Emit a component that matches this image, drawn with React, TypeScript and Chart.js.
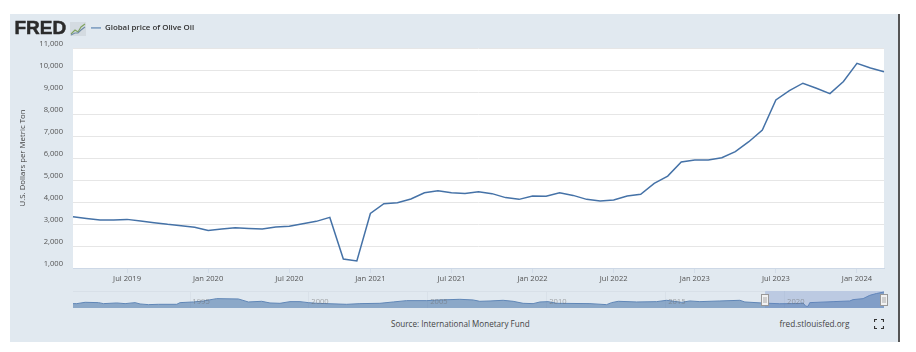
import React, { useEffect, useRef } from "react";
import { Chart, registerables } from "chart.js";

Chart.register(...registerables);

const categories = [
  "Mar 2019","Apr 2019","May 2019","Jun 2019","Jul 2019","Aug 2019","Sep 2019","Oct 2019","Nov 2019","Dec 2019",
  "Jan 2020","Feb 2020","Mar 2020","Apr 2020","May 2020","Jun 2020","Jul 2020","Aug 2020","Sep 2020","Oct 2020","Nov 2020","Dec 2020",
  "Jan 2021","Feb 2021","Mar 2021","Apr 2021","May 2021","Jun 2021","Jul 2021","Aug 2021","Sep 2021","Oct 2021","Nov 2021","Dec 2021",
  "Jan 2022","Feb 2022","Mar 2022","Apr 2022","May 2022","Jun 2022","Jul 2022","Aug 2022","Sep 2022","Oct 2022","Nov 2022","Dec 2022",
  "Jan 2023","Feb 2023","Mar 2023","Apr 2023","May 2023","Jun 2023","Jul 2023","Aug 2023","Sep 2023","Oct 2023","Nov 2023","Dec 2023",
  "Jan 2024","Feb 2024","Mar 2024",
];

const oliveOil = [
  3330,3255,3180,3180,3210,3136,3060,2985,2925,2850,
  2710,2770,2830,2800,2770,2860,2900,3010,3120,3300,1410,1320,
  3480,3925,3970,4136,4420,4510,4420,4390,4470,4380,4200,4120,
  4270,4260,4420,4300,4120,4045,4090,4270,4350,4850,5180,5820,
  5910,5910,6010,6290,6740,7270,8640,9060,9400,9170,8925,9480,
  10300,10090,9920,
];

const tickLabels = ["Jul 2019","Jan 2020","Jul 2020","Jan 2021","Jul 2021","Jan 2022","Jul 2022","Jan 2023","Jul 2023","Jan 2024"];

const navYears = [
  1990.08,1990.24,1990.59,1991.15,1991.36,1991.92,1992.27,1992.69,1992.9,1993.25,1993.67,1994.44,1994.58,1995.14,1995.56,
  1996.12,1997.03,1997.45,1998.01,1998.36,1998.78,1999.2,1999.62,1999.97,2000.32,2001.58,2002.14,2002.98,2003.54,2004.1,
  2004.95,2005.5,2006.34,2006.9,2007.18,2007.61,2008.16,2008.58,2009.0,2009.42,2009.71,2010.05,2010.41,2011.81,2012.51,
  2012.72,2013.0,2013.77,2014.61,2015.03,2015.66,2016.01,2016.43,2017.27,2018.11,2018.32,2019.09,2019.79,2020.56,2020.77,
  2020.88,2020.98,2021.05,2022.03,2022.73,2022.87,2023.29,2023.57,2023.85,2024.17,
];
const navValues = [
  2959,2959,3771,3568,2959,3365,2959,3568,2756,2350,2553,2553,3568,3974,4583,
  6004,5801,3974,4380,3365,3162,4177,4177,3568,3162,2553,2959,3162,3974,4786,
  4786,5192,5598,5192,4380,4583,4989,4380,3162,2959,3974,4177,3162,2959,2350,
  3568,4380,3974,4177,4989,3771,4583,4177,4583,4989,3974,3300,2900,3000,3300,
  1400,1335,3568,4177,4580,5400,6000,8000,9100,10050,
];
const navTicks = [1995, 2000, 2005, 2010, 2015, 2020];
const selectionStart = 2019.17;
const selectionEnd = 2024.17;

const seriesName = "Global price of Olive Oil";
const yTitle = "U.S. Dollars per Metric Ton";
const FONT = "'Open Sans', sans-serif";
const PANEL = "#e1e9f0";
const LINE = "#4572a7";

const plotBackground = {
  id: "plotBackground",
  beforeDraw(chart: any) {
    const { ctx, chartArea: a } = chart;
    ctx.save();
    ctx.fillStyle = "#ffffff";
    ctx.fillRect(a.left, a.top, a.right - a.left, a.bottom - a.top);
    ctx.restore();
  },
};

const legendPlacement = {
  id: "legendPlacement",
  afterLayout(chart: any) {
    const l = chart.legend;
    const w = l.right - l.left;
    const h = l.bottom - l.top;
    l.left = 91;
    l.right = 91 + w;
    l.top = 24;
    l.bottom = 24 + h;
  },
};

const navigatorParts = {
  id: "navigatorParts",
  afterDatasetsDraw(chart: any) {
    const { ctx, chartArea: a, scales } = chart;
    const x0 = scales.x.getPixelForValue(selectionStart);
    const x1 = scales.x.getPixelForValue(selectionEnd);
    ctx.save();
    ctx.fillStyle = "rgba(102,133,194,0.3)";
    ctx.fillRect(x0, a.top, x1 - x0, a.bottom - a.top);
    ctx.strokeStyle = "#d8e0e8";
    ctx.lineWidth = 1;
    ctx.beginPath();
    ctx.moveTo(a.left, a.top + 0.5);
    ctx.lineTo(x0, a.top + 0.5);
    ctx.stroke();
    for (const x of [x0, x1]) {
      const left = Math.round(x) - 3.5;
      const top = a.top + 3.5;
      ctx.fillStyle = "#f2f2f2";
      ctx.strokeStyle = "#999999";
      ctx.fillRect(left, top, 7, 11);
      ctx.strokeRect(left, top, 7, 11);
      ctx.strokeStyle = "#aaaaaa";
      ctx.beginPath();
      ctx.moveTo(left + 2.5, top + 2.5);
      ctx.lineTo(left + 2.5, top + 8.5);
      ctx.moveTo(left + 4.5, top + 2.5);
      ctx.lineTo(left + 4.5, top + 8.5);
      ctx.stroke();
    }
    ctx.restore();
  },
};

export default function App() {
  const mainRef = useRef<HTMLCanvasElement>(null);
  const navRef = useRef<HTMLCanvasElement>(null);

  useEffect(() => {
    const main = new Chart(mainRef.current as HTMLCanvasElement, {
      type: "line",
      data: {
        labels: categories,
        datasets: [
          {
            label: seriesName,
            data: oliveOil,
            borderColor: LINE,
            backgroundColor: LINE,
            borderWidth: 1.5,
            pointRadius: 0,
            tension: 0,
            clip: false,
          },
        ],
      },
      options: {
        animation: false,
        responsive: false,
        events: [],
        layout: { autoPadding: false, padding: { left: 18, right: 32, top: 48, bottom: 0 } },
        plugins: {
          tooltip: { enabled: false },
          legend: {
            position: "chartArea",
            align: "start",
            labels: {
              usePointStyle: true,
              pointStyle: "line",
              pointStyleWidth: 10,
              padding: 0,
              color: "#333333",
              font: { family: FONT, size: 7.9, weight: "600" },
              generateLabels: (chart: any) =>
                Chart.defaults.plugins.legend.labels
                  .generateLabels(chart)
                  .map((item: any) => ({ ...item, lineWidth: 1 })),
            },
          },
        },
        scales: {
          x: {
            type: "category",
            offset: false,
            afterBuildTicks: (s: any) => {
              s.ticks = s.ticks.filter((t: any) => tickLabels.includes(categories[t.value]));
            },
            afterFit: (s: any) => {
              s.height = 22;
            },
            border: { color: "#cdd8e6", width: 1 },
            grid: { drawOnChartArea: false, drawTicks: true, tickLength: 5, tickColor: "#d3dde9" },
            ticks: {
              autoSkip: false,
              maxRotation: 0,
              padding: 1.5,
              color: "#555555",
              font: { family: FONT, size: 7.6 },
              callback(this: any, v: any) {
                return this.getLabelForValue(v);
              },
            },
          },
          y: {
            min: 1000,
            max: 11000,
            afterFit: (s: any) => {
              s.width = 55;
            },
            border: { display: false },
            grid: { color: "#e6e6e6", lineWidth: 1, drawTicks: false },
            title: {
              display: true,
              text: yTitle,
              color: "#444444",
              padding: { top: 0, bottom: 0 },
              font: { family: FONT, size: 7.8 },
            },
            ticks: {
              stepSize: 1000,
              labelOffset: -4,
              padding: 10,
              color: "#555555",
              font: { family: FONT, size: 7.6 },
              callback: (v: any) => Number(v).toLocaleString("en-US"),
            },
          },
        },
      },
      plugins: [plotBackground, legendPlacement],
    } as any);

    const nav = new Chart(navRef.current as HTMLCanvasElement, {
      type: "line",
      data: {
        datasets: [
          {
            label: "Navigator",
            data: navYears.map((x, i) => ({ x, y: navValues[i] })),
            borderColor: "#5f86b6",
            backgroundColor: "rgba(69,114,167,0.55)",
            borderWidth: 1,
            pointRadius: 0,
            tension: 0,
            fill: "start",
          },
        ],
      },
      options: {
        animation: false,
        responsive: false,
        events: [],
        layout: { autoPadding: false, padding: { left: 73, right: 32, top: 0, bottom: 0 } },
        plugins: { legend: { display: false }, tooltip: { enabled: false } },
        scales: {
          x: {
            type: "linear",
            min: navYears[0],
            max: selectionEnd,
            afterBuildTicks: (s: any) => {
              s.ticks = navTicks.map((value) => ({ value }));
            },
            afterFit: (s: any) => {
              s.height = 0;
            },
            border: { display: false },
            grid: { color: "#d9e1e9", drawTicks: false, tickLength: 0 },
            ticks: {
              z: 1,
              autoSkip: false,
              maxRotation: 0,
              mirror: true,
              padding: 1.5,
              labelOffset: 11,
              color: "rgba(110,110,110,0.55)",
              font: { family: FONT, size: 7.6 },
              callback: (v: any) => String(v),
            },
          },
          y: { display: false, min: 300, max: 10650 },
        },
      },
      plugins: [navigatorParts],
    } as any);

    return () => {
      main.destroy();
      nav.destroy();
    };
  }, []);

  const text: React.CSSProperties = {
    position: "absolute",
    fontFamily: FONT,
    fontSize: 8.2,
    color: "#444444",
    whiteSpace: "nowrap",
    lineHeight: "12px",
  };

  return (
    <div style={{ position: "absolute", left: 0, top: 0, width: 916, height: 352, background: "#ffffff", overflow: "hidden" }}>
      <div style={{ position: "absolute", left: 10, top: 14, width: 888, height: 328, background: PANEL }} />
      <div style={{ position: "absolute", left: 898, top: 14, width: 1.5, height: 328, background: "#555555" }} />
      <canvas ref={mainRef} width={916} height={290} style={{ position: "absolute", left: 0, top: 0 }} />
      <canvas ref={navRef} width={916} height={17} style={{ position: "absolute", left: 0, top: 291 }} />

      <div
        style={{
          position: "absolute",
          left: 14.5,
          top: 18,
          fontFamily: "'Liberation Sans', sans-serif",
          fontWeight: 700,
          fontSize: 19,
          lineHeight: "20px",
          WebkitTextStroke: "0.5px #2b2b2b",
          color: "#2b2b2b",
        }}
      >
        FRED
      </div>
      <svg width={16} height={14} style={{ position: "absolute", left: 69.5, top: 21.5 }} viewBox="0 0 16 14">
        <rect x={0} y={0} width={16} height={14} fill="#d4dbe1" />
        <polyline points="1,12 5,8 8,10 11,5 15,2" fill="none" stroke="#7fa35f" strokeWidth={1.1} />
        <polyline points="1,13 5,11 8,11 11,8 15,5" fill="none" stroke="#6f8ba5" strokeWidth={1.1} />
      </svg>

      <div style={{ ...text, left: 391, top: 317.5, fontSize: 8.1 }}>Source: International Monetary Fund</div>
      <div style={{ ...text, left: 779.5, top: 317.5 }}>fred.stlouisfed.org</div>
      <svg width={10} height={10} style={{ position: "absolute", left: 874, top: 319 }} viewBox="0 0 10 10">
        <path d="M0.5 3V0.5H3M7 0.5H9.5V3M9.5 7V9.5H7M3 9.5H0.5V7" fill="none" stroke="#333333" strokeWidth={1.2} />
      </svg>
    </div>
  );
}
